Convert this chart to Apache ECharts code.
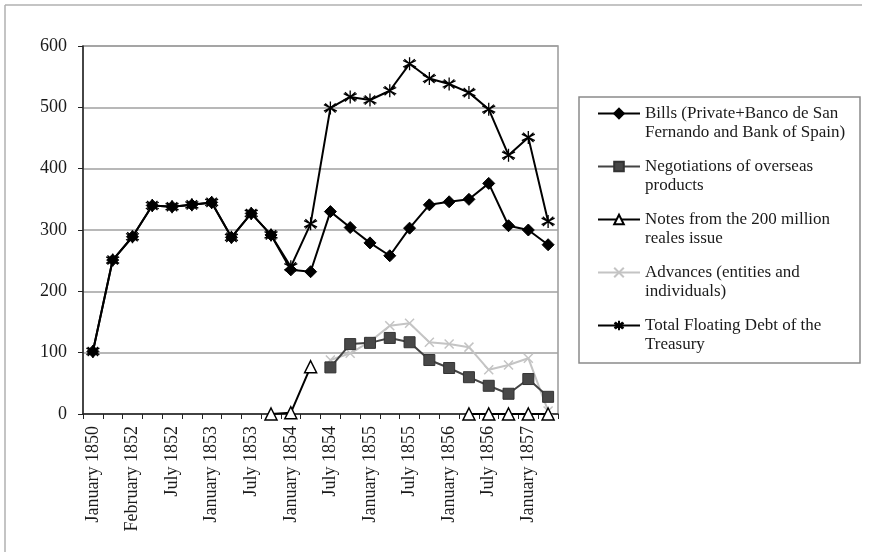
<!DOCTYPE html>
<html>
<head>
<meta charset="utf-8">
<script src="https://cdn.jsdelivr.net/npm/echarts@6/dist/echarts.min.js"></script>
<style>
  html, body { margin: 0; padding: 0; background: #fff; }
  #chart { width: 871px; height: 552px; }
</style>
</head>
<body>
<div id="chart"></div>
<script>
// Periods on the category axis (every other one is labelled)
const periods = [
  'January 1850', 'January 1851', 'February 1852', 'April 1852',
  'July 1852', 'October 1852', 'January 1853', 'April 1853',
  'July 1853', 'October 1853', 'January 1854', 'April 1854',
  'July 1854', 'October 1854', 'January 1855', 'April 1855',
  'July 1855', 'October 1855', 'January 1856', 'April 1856',
  'July 1856', 'October 1856', 'January 1857', 'April 1857'
];

// Millions of reales
const bills = [102, 251, 289, 340, 338, 341, 345, 288, 327, 292, 235, 232,
               330, 304, 279, 258, 303, 341, 346, 350, 376, 307, 300, 276];
const negotiations = [null, null, null, null, null, null, null, null, null, null, null, null,
                      76, 114, 116, 124, 117, 88, 75, 60, 46, 33, 57, 28];
const notes = [null, null, null, null, null, null, null, null, null, 0, 2, 77,
               null, null, null, null, null, null, null, 0, 0, 0, 0, 0];
const advances = [null, null, null, null, null, null, null, null, null, null, null, null,
                  88, 99, 118, 144, 148, 117, 114, 109, 72, 80, 91, 5];
const totalDebt = [102, 251, 289, 340, 338, 341, 345, 288, 327, 292, 240, 310,
                   499, 517, 512, 527, 571, 547, 538, 524, 497, 422, 451, 314];

const seriesNames = [
  'Bills (Private+Banco de San\nFernando and Bank of Spain)',
  'Negotiations of overseas\nproducts',
  'Notes from the 200 million\nreales issue',
  'Advances (entities and\nindividuals)',
  'Total Floating Debt of the\nTreasury'
];

const yTicks = { min: 0, max: 600, interval: 100 };

const serif = '"Liberation Serif", "DejaVu Serif", serif';
const asterisk = 'path://M0,-6 L0,6 M-5.2,-3 L5.2,3 M-5.2,3 L5.2,-3 M-4.2,-4.2 L4.2,4.2 M-4.2,4.2 L4.2,-4.2';
const cross = 'path://M-4,-4 L4,4 M-4,4 L4,-4';

const chart = echarts.init(document.getElementById('chart'), null, { renderer: 'canvas' });

chart.setOption({
  backgroundColor: '#ffffff',
  animation: false,
  graphic: [
    { type: 'line', shape: { x1: 5, y1: 5, x2: 862, y2: 5 }, style: { stroke: '#b0b0b0', lineWidth: 1.5 } },
    { type: 'line', shape: { x1: 5, y1: 5, x2: 5, y2: 552 }, style: { stroke: '#b0b0b0', lineWidth: 1.5 } },
    { type: 'rect', shape: { x: 579, y: 97, width: 281, height: 266 },
      style: { fill: 'none', stroke: '#8a8a8a', lineWidth: 1.5 }, z: -1 }
  ],
  grid: {
    left: 83, right: 313, top: 46, bottom: 138,
    show: true, borderColor: '#999', borderWidth: 1.5, backgroundColor: 'transparent'
  },
  legend: {
    orient: 'vertical',
    left: 597,
    top: 85,
    padding: 0,
    itemGap: -4,
    itemWidth: 42,
    itemHeight: 12,
    data: seriesNames,
    // leading blank line keeps the icon level with the first line of each name
    formatter: name => '\n' + name,
    textStyle: {
      fontFamily: serif, fontSize: 17, color: '#1a1a1a', lineHeight: 19
    }
  },
  xAxis: {
    type: 'category',
    data: periods,
    boundaryGap: true,
    axisLine: { lineStyle: { color: '#222', width: 1.5 } },
    axisTick: { show: true, interval: 0, length: 5, lineStyle: { color: '#222', width: 1 } },
    axisLabel: {
      interval: 1, rotate: 90, margin: 12,
      fontFamily: serif, fontSize: 18, color: '#1a1a1a'
    },
    splitLine: { show: false }
  },
  yAxis: {
    type: 'value',
    min: yTicks.min, max: yTicks.max, interval: yTicks.interval,
    axisLine: { show: true, lineStyle: { color: '#222', width: 1.5 } },
    axisTick: { show: true, length: 5, lineStyle: { color: '#222', width: 1 } },
    axisLabel: { margin: 16, fontFamily: serif, fontSize: 18, color: '#1a1a1a' },
    splitLine: { show: true, lineStyle: { color: '#a0a0a0', width: 1.5 } }
  },
  series: [
    {
      name: seriesNames[0], type: 'line', data: bills,
      symbol: 'diamond', symbolSize: 12, showAllSymbol: true,
      lineStyle: { color: '#000', width: 2 },
      itemStyle: { color: '#000', borderColor: '#000', borderWidth: 1 },
      z: 3
    },
    {
      name: seriesNames[1], type: 'line', data: negotiations,
      symbol: 'rect', symbolSize: 11, showAllSymbol: true,
      lineStyle: { color: '#444', width: 2 },
      itemStyle: { color: '#484848', borderColor: '#333', borderWidth: 1 },
      z: 3
    },
    {
      name: seriesNames[2], type: 'line', data: notes,
      symbol: 'triangle', symbolSize: 12, showAllSymbol: true,
      connectNulls: false,
      lineStyle: { color: '#000', width: 2 },
      itemStyle: { color: '#fff', borderColor: '#000', borderWidth: 1.5 },
      z: 5
    },
    {
      name: seriesNames[3], type: 'line', data: advances,
      symbol: cross, symbolSize: 9, showAllSymbol: true,
      lineStyle: { color: '#c4c4c4', width: 2 },
      itemStyle: { color: 'none', borderColor: '#c4c4c4', borderWidth: 1.5 },
      z: 2
    },
    {
      name: seriesNames[4], type: 'line', data: totalDebt,
      symbol: asterisk, symbolSize: 13, showAllSymbol: true,
      lineStyle: { color: '#000', width: 2 },
      itemStyle: { color: 'none', borderColor: '#000', borderWidth: 1.3 },
      z: 4
    }
  ]
});
</script>
</body>
</html>
